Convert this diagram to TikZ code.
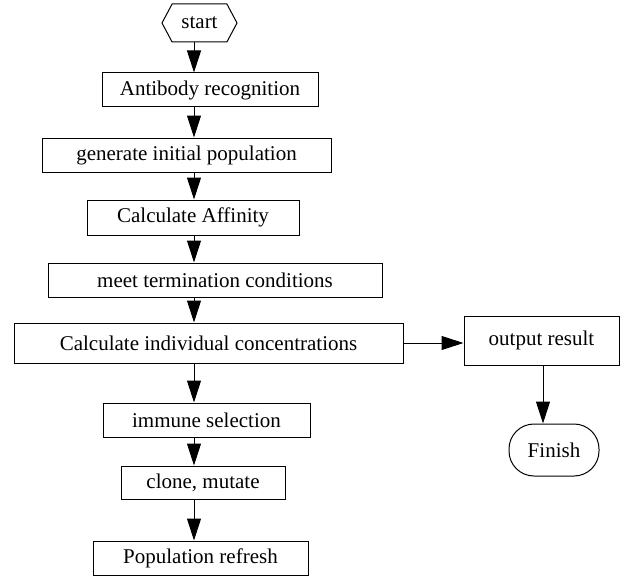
\documentclass[tikz,border=0pt]{standalone}
\usepackage{fontspec}
\setmainfont{Liberation Serif}
\usetikzlibrary{arrows.meta}
\usetikzlibrary{shapes.symbols}
\usetikzlibrary{positioning}

\begin{document}
\begin{tikzpicture}[x=1pt,y=-1pt,->,>={Triangle[length=22pt,width=14pt]},line width=1pt,
    box node/.style={rectangle,draw,inner sep=0pt,font=\fontsize{21}{25}\selectfont},
    start node/.style={signal,signal to=west and east,signal pointer angle=124,draw,inner sep=0pt,font=\fontsize{21}{25}\selectfont},
    end node/.style={rectangle,rounded corners=25pt,draw,inner sep=0pt,font=\fontsize{21}{25}\selectfont}]
   \useasboundingbox (0,0) rectangle (627,578);
   \coordinate (axis) at (194,0);
   % main column
   \node[start node,minimum width=75pt,minimum height=38pt] (start) at (199.5,23) {start};
   \node[box node,minimum width=216pt,minimum height=34pt] (ab) at (210,90) {Antibody recognition};
   \node[box node,minimum width=289pt,minimum height=34pt] (gen) at (186.5,155) {generate initial population};
   \node[box node,minimum width=212pt,minimum height=35pt] (aff) at (193,217.5) {Calculate Affinity};
   \node[box node,minimum width=334pt,minimum height=34pt] (meet) at (215,280) {meet termination conditions};
   \node[box node,minimum width=389pt,minimum height=40pt] (conc) at (208.5,343) {Calculate individual concentrations};
   \node[box node,minimum width=207pt,minimum height=34pt] (sel) at (206.5,420) {immune selection};
   \node[box node,minimum width=164pt,minimum height=33pt] (clone) at (203,482.5) {clone, mutate};
   \node[box node,minimum width=215pt,minimum height=34pt] (refresh) at (200.5,558) {Population refresh};
   % right branch
   \node[box node,minimum width=155pt,minimum height=49pt] (out) at (541.5,340.5) {output result};
   \node[end node,minimum width=90pt,minimum height=52pt] (fin) at (554,450) {Finish};

   \path (start.south -| axis) edge (ab.north -| axis);
   \path (ab.south -| axis) edge (gen.north -| axis);
   \path (gen.south -| axis) edge (aff.north -| axis);
   \path (aff.south -| axis) edge (meet.north -| axis);
   \path (meet.south -| axis) edge (conc.north -| axis);
   \path (conc.south -| axis) edge (sel.north -| axis);
   \path (sel.south -| axis) edge (clone.north -| axis);
   \path (clone.south -| axis) edge (refresh.north -| axis);
   \path (conc.east) edge (out.west |- conc.east);
   \path (out.south -| 543,0) edge (fin.north -| 543,0);
\end{tikzpicture}
\end{document}
